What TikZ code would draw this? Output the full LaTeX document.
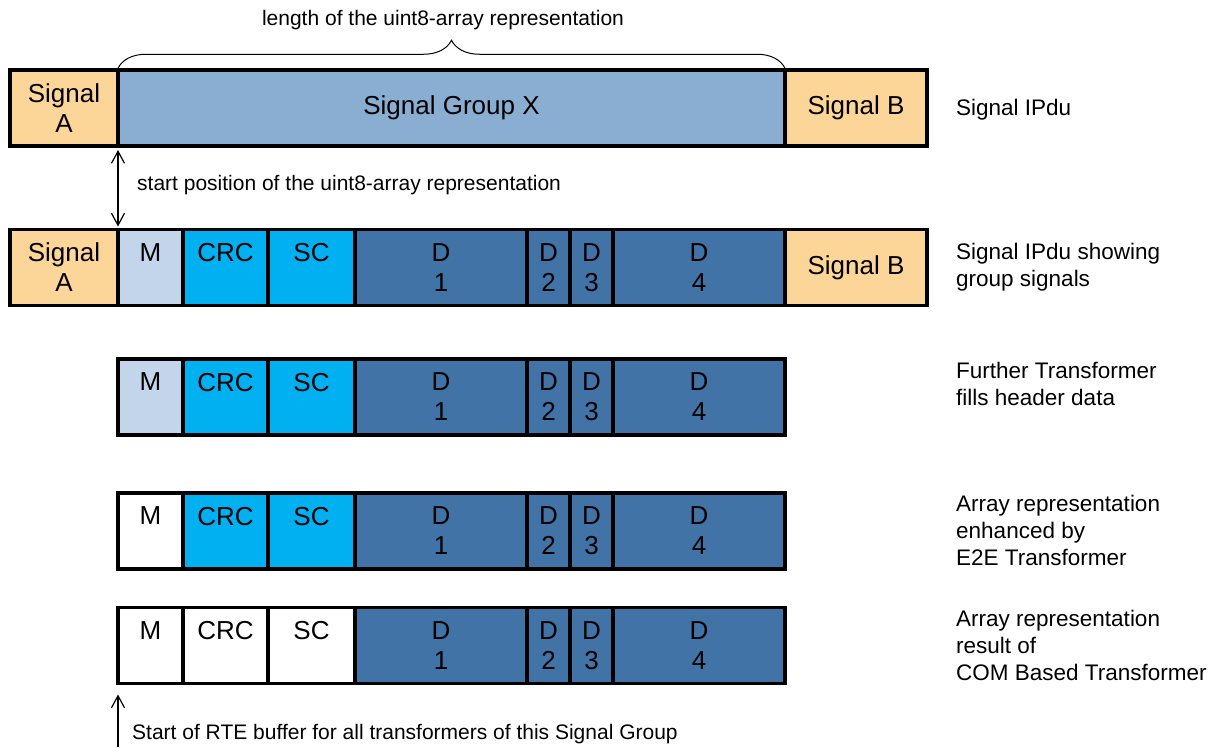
\documentclass[tikz,border=0pt]{standalone}
\usepackage{fontspec}
\setmainfont{Liberation Sans}
\usetikzlibrary{positioning,arrows.meta,decorations.pathreplacing}
\definecolor{sigorange}{HTML}{FCD598}
\definecolor{grpblue}{HTML}{8AAED2}
\definecolor{hdrblue}{HTML}{C2D5EA}
\definecolor{chkcyan}{HTML}{00B0F0}
\definecolor{datblue}{HTML}{4173A7}

\begin{document}
\begin{tikzpicture}[x=1pt, y=-1pt,
    cell/.style={draw, line width=3.5pt, inner sep=0pt, outer sep=0pt,
                 minimum height=76pt, align=center,
                 font=\fontsize{26}{30}\selectfont},
    sig/.style={cell, fill=sigorange},
    grp/.style={cell, fill=grpblue},
    dat/.style={cell, fill=datblue},
    note/.style={inner sep=0pt, font=\fontsize{21}{25}\selectfont},
    rowlabel/.style={anchor=west, align=left, inner sep=0pt,
                     font=\fontsize{22.5}{27}\selectfont},
    pointer/.style={line width=1.2pt},
    >={Straight Barb[length=12pt,width=13pt]}
  ]
  \useasboundingbox (0,0) rectangle (1218,747);

  % Signal IPdu
  \node[sig, minimum width=108pt, anchor=west] (A1) at (10,108) {Signal\\A};
  \node[grp, minimum width=667pt, right=0pt of A1] (X1) {Signal Group X};
  \node[sig, minimum width=142pt, right=0pt of X1] (B1) {Signal B};

  % Group signal rows
  \foreach \r/\y/\mf/\cf in {2/267.5/hdrblue/chkcyan, 3/397/hdrblue/chkcyan,
                             4/531/white/chkcyan, 5/645.5/white/white} {
    \node[cell, fill=\mf, minimum width=65pt, anchor=west] (M\r) at (118,\y) {M\\\phantom{1}};
    \node[cell, fill=\cf, minimum width=85pt, right=0pt of M\r] (C\r) {CRC\\\phantom{1}};
    \node[cell, fill=\cf, minimum width=87pt, right=0pt of C\r] (S\r) {SC\\\phantom{1}};
    \node[dat, minimum width=172pt, right=0pt of S\r] (Da\r) {D\\1};
    \node[dat, minimum width=43pt, right=0pt of Da\r] (Db\r) {D\\2};
    \node[dat, minimum width=43pt, right=0pt of Db\r] (Dc\r) {D\\3};
    \node[dat, minimum width=172pt, right=0pt of Dc\r] (Dd\r) {D\\4};
  }
  \node[sig, minimum width=108pt, left=0pt of M2] (A2) {Signal\\A};
  \node[sig, minimum width=142pt, right=0pt of Dd2] (B2) {Signal B};

  % Length and start of the array
  \draw[line width=1pt, decorate, decoration={brace, amplitude=28pt}]
    ([yshift=1.75pt]X1.north west) -- ([yshift=1.75pt]X1.north east);
  \node[note] (lenlbl) at (443,20) {length of the uint8-array representation};
  \draw[pointer, <->] ([yshift=-4pt]A1.south east) -- ([yshift=3pt]A2.north east);
  \node[note, anchor=west] (startlbl) at (137,185) {start position of the uint8-array representation};

  % RTE buffer
  \coordinate (bufend) at (118,747);
  \draw[pointer, ->] (bufend) -- ([yshift=-11pt]M5.south west);
  \node[note, anchor=west] (buflbl) at (132,734) {Start of RTE buffer for all transformers of this Signal Group};

  % Row descriptions
  \node[rowlabel] (lab1) at (956,110) {Signal IPdu};
  \node[rowlabel] (lab2) at (956,267.5) {Signal IPdu showing\\group signals};
  \node[rowlabel] (lab3) at (956,383.5) {Further Transformer\\fills header data};
  \node[rowlabel] (lab4) at (956,530) {Array representation\\enhanced by\\E2E Transformer};
  \node[rowlabel] (lab5) at (956,645) {Array representation\\result of\\COM Based Transformer};
\end{tikzpicture}
\end{document}
